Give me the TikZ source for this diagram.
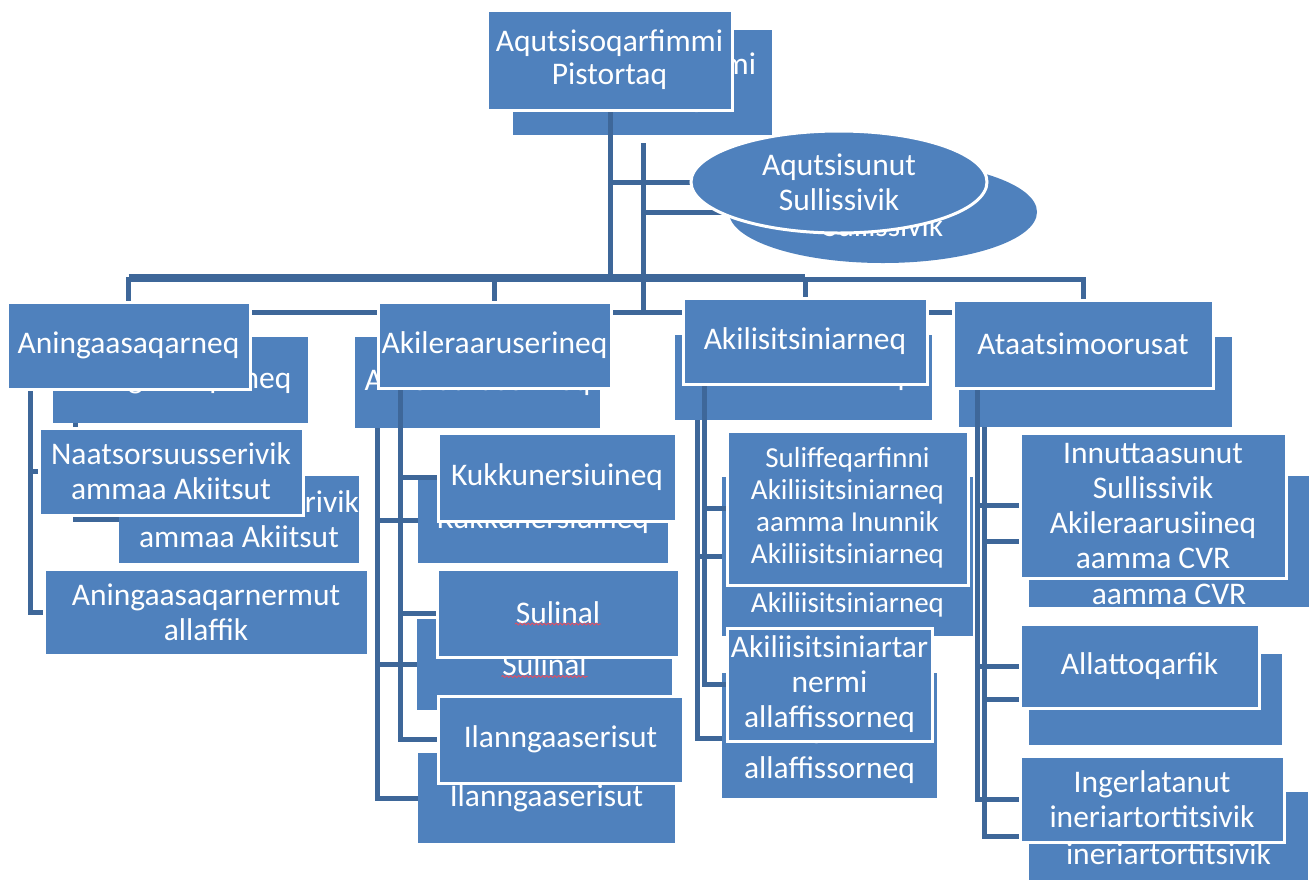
\documentclass[tikz,border=0pt]{standalone}
\usepackage{fontspec}
\setmainfont{Carlito}
\usetikzlibrary{shapes.geometric,decorations.pathmorphing,calc}
\definecolor{boxblue}{RGB}{79,129,189}
\definecolor{lineblue}{RGB}{62,103,153}
\definecolor{spellred}{RGB}{225,80,100}
\pgfdeclarelayer{bconn}
\pgfdeclarelayer{bshape}
\pgfdeclarelayer{fconn}
\pgfsetlayers{bconn,bshape,fconn,main}
\begin{document}
\begin{tikzpicture}[x=1pt,y=-1pt,
  box/.style={fill=boxblue,text=white,inner sep=0pt,outer sep=0pt,align=center,
    font=\fontsize{31.5}{35}\selectfont},
  fbox/.style={box,draw=white,line width=3pt},
  bbox/.style={box},
  sz/.style 2 args={minimum width=#1,minimum height=#2},
  smallfont/.style={font=\fontsize{29}{32}\selectfont},
  topfont/.style={font=\fontsize{31.5}{33}\selectfont},
  conn/.style={draw=lineblue,line width=5pt},
  wavy/.style={draw=spellred,line width=0.9pt,decorate,decoration={snake,amplitude=0.9pt,segment length=4pt}}
]
\useasboundingbox (0,0) rectangle (1311,879);

% ================= BACK LAYER : shapes =================
\begin{pgfonlayer}{bshape}
\node[bbox,topfont,sz={259}{105}] (Btop) at (642.5,82.5) {Aqutsisoqarfimmi\\Pistortaq};
\node[bbox,ellipse,minimum width=308,minimum height=102] (Bell) at (883,212) {};
\node[box,fill=none] (Bellt) at (883,208) {Aqutsisunut\\Sullissivik};

\node[bbox,sz={255}{86}] (B1) at (180.5,380) {Aningaasaqarneq};
\node[bbox,sz={245}{91}] (B2) at (477.5,382.5) {Akileraaruserineq};
\node[bbox,sz={257}{85}] (B3) at (803.5,377.5) {Akilisitsiniarneq};
\node[bbox,sz={273}{90}] (B4) at (1095.5,382) {};
\node[box,fill=none] (B4t) at (1095.5,376) {Ataatsimoorusat};

\node[bbox,sz={238}{87}] (B1a) at (239,519.5) {Naatsorsuusserivik\\ammaa Akiitsut};

\node[bbox,sz={250}{85}] (B2a) at (543,520.5) {Kukkunersiuineq};
\node[bbox,sz={255}{91}] (B2b) at (544.5,664.5) {Sulinal};
\node[bbox,sz={257}{90}] (B2c) at (546.5,798) {Ilanngaaserisut};

\node[bbox,smallfont,sz={251}{159}] (B3a) at (847.5,556.5) {Suliffeqarfinni\\Akiliisitsiniarneq\\aamma Inunnik\\Akiliisitsiniarneq};
\node[bbox,sz={215}{125}] (B3b) at (829.5,735.5) {Akiliisitsiniartar\\nermi\\allaffissorneq};

\node[bbox,sz={280}{131}] (B4a) at (1169,541.5) {Innuttaasunut\\Sullissivik\\Akileraarusiineq\\aamma CVR};
\node[bbox,sz={253}{91}] (B4b) at (1155.5,699.5) {};
\node[box,fill=none] (B4bt) at (1155.5,686) {Allattoqarfik};
\node[bbox,sz={279}{88}] (B4c) at (1168.5,836) {Ingerlatanut\\ineriartortitsivik};

\draw[wavy] ($(B2b.center)+(-43,12)$) -- ++(86,0);
\end{pgfonlayer}

% ================= BACK LAYER : connectors =================
\begin{pgfonlayer}{bconn}
\coordinate (btrunk) at (643,143);
\coordinate (bbar) at (643,312);
\coordinate (bt1) at (75,423);
\coordinate (bt2) at (377,428);
\coordinate (bt3) at (697,420);
\coordinate (bt4) at (984,427);
\draw[conn] (btrunk) -- (bbar);
\draw[conn] (btrunk |- Bell.west) -- (Bell.west);
\draw[conn] (B1.north) |- (bbar) -| (B4.north);
\draw[conn] (B2.north) -- (B2.north |- bbar);
\draw[conn] (B3.north) -- (B3.north |- bbar);
\draw[conn] (bt1) |- (B1a.west);
\draw[conn] (bt2) |- (B2c.west);
\draw[conn] (bt2 |- B2a.west) -- (B2a.west);
\draw[conn] (bt2 |- B2b.west) -- (B2b.west);
\draw[conn] (bt3) |- ($(B3b.west)+(0,3)$);
\draw[conn] (bt3 |- B3a.west) -- (B3a.west);
\draw[conn] (bt4) |- (B4c.west);
\draw[conn] (bt4 |- B4a.west) -- (B4a.west);
\draw[conn] (bt4 |- B4b.west) -- (B4b.west);
\end{pgfonlayer}

% ================= FRONT LAYER : shapes =================
\node[fbox,topfont,sz={245}{100}] (Ftop) at (609.5,60) {Aqutsisoqarfimmi\\Pistortaq};
\node[fbox,ellipse,minimum width=296,minimum height=102] (Fell) at (839,182) {Aqutsisunut\\Sullissivik};

\node[fbox,sz={243}{87}] (F1) at (128.5,345.5) {Aningaasaqarneq};
\node[fbox,sz={233}{86}] (F2) at (494.5,345) {Akileraaruserineq};
\node[fbox,sz={244}{86}] (F3) at (805,341) {Akilisitsiniarneq};
\node[fbox,sz={260}{88}] (F4) at (1083,344) {Ataatsimoorusat};

\node[fbox,sz={264}{87}] (F1a) at (171,471.5) {Naatsorsuusserivik\\ammaa Akiitsut};
\node[fbox,sz={324}{86}] (F1b) at (206,612) {Aningaasaqarnermut\\allaffik};

\node[fbox,sz={238}{88}] (F2a) at (557,477) {Kukkunersiuineq};
\node[fbox,sz={242}{88}] (F2b) at (558,613) {Sulinal};
\node[fbox,sz={245}{87}] (F2c) at (560.5,739.5) {Ilanngaaserisut};

\node[fbox,smallfont,sz={241}{154}] (F3a) at (847.5,508) {Suliffeqarfinni\\Akiliisitsiniarneq\\aamma Inunnik\\Akiliisitsiniarneq};
\node[fbox,sz={205}{113}] (F3b) at (829.5,684.5) {Akiliisitsiniartar\\nermi\\allaffissorneq};

\node[fbox,sz={266}{145}] (F4a) at (1153,505.5) {Innuttaasunut\\Sullissivik\\Akileraarusiineq\\aamma CVR};
\node[fbox,sz={239}{84}] (F4b) at (1139.5,666) {Allattoqarfik};
\node[fbox,sz={264}{86}] (F4c) at (1152,799) {Ingerlatanut\\ineriartortitsivik};

\draw[wavy] ($(F2b.center)+(-43,11)$) -- ++(86,0);

% ================= FRONT LAYER : connectors =================
\begin{pgfonlayer}{fconn}
\coordinate (fbar) at (610,279);
\coordinate (fbar2) at (610,276);
\coordinate (ft1) at (30,389);
\coordinate (ft2) at (400,388);
\coordinate (ft3) at (704,384);
\coordinate (ft4) at (977,388);
\draw[conn] (Ftop.south -| fbar) -- (fbar);
\draw[conn] (fbar |- Fell.west) -- (Fell.west);
\draw[conn] (F1.north) |- (fbar) -| (F4.north);
\draw[conn] (F1.north |- fbar2) -- (F3.north |- fbar2);
\draw[conn] (F2.north) -- (F2.north |- fbar);
\draw[conn] (F3.north) -- (F3.north |- fbar);
\draw[conn] (ft1) |- (F1b.west);
\draw[conn] (ft1 |- F1a.west) -- (F1a.west);
\draw[conn] (ft2) |- (F2c.west);
\draw[conn] (ft2 |- F2a.west) -- (F2a.west);
\draw[conn] (ft2 |- F2b.west) -- (F2b.west);
\draw[conn] (ft3) |- (F3b.west);
\draw[conn] (ft3 |- F3a.west) -- (F3a.west);
\draw[conn] (ft4) |- (F4c.west);
\draw[conn] (ft4 |- F4a.west) -- (F4a.west);
\draw[conn] (ft4 |- F4b.west) -- (F4b.west);
\end{pgfonlayer}

\end{tikzpicture}
\end{document}
